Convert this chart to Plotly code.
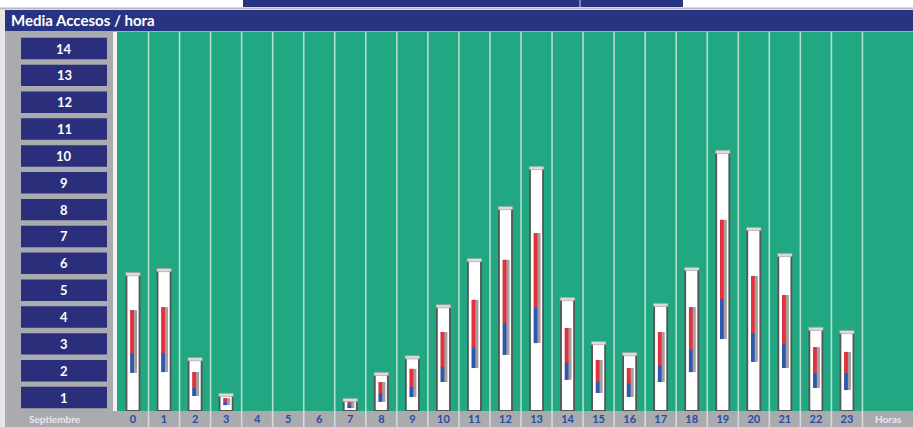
import plotly.graph_objects as go

# ---------------- data ----------------
hours = list(range(24))
hour_labels = [str(h) for h in hours]
y_labels = [str(k) for k in range(1, 15)]
N = None
max_val = [5.10, 5.25, 1.93, 0.60, N, N, N, 0.41, 1.38, 2.00, 3.90, 5.62,
           7.56, 9.05, 4.17, 2.53, 2.12, 3.95, 5.29, 9.65, 6.78, 5.81, 3.06, 2.94]
upper = [3.76, 3.87, 1.45, 0.48, N, N, N, 0.34, 1.08, 1.57, 2.94, 4.14,
         5.63, 6.63, 3.09, 1.90, 1.60, 2.94, 3.87, 7.12, 5.03, 4.32, 2.38, 2.20]
middle = [2.16, 2.16, 0.86, 0.33, N, N, N, 0.25, 0.67, 0.90, 1.64, 2.38,
          3.28, 3.87, 1.79, 1.08, 1.04, 1.71, 2.27, 4.17, 2.91, 2.53, 1.42, 1.42]
lower = [1.42, 1.45, 0.56, 0.22, N, N, N, 0.11, 0.34, 0.52, 1.08, 1.60,
         2.09, 2.53, 1.16, 0.67, 0.52, 1.08, 1.45, 2.68, 1.83, 1.60, 0.86, 0.78]
title_text = "Media Accesos / hora"
left_footer = "Septiembre"
right_footer = "Horas"

# ---------------- colours ----------------
GREEN = "#21A883"
NAVY = "#283481"
BOX_NAVY = "#2B2F7B"
GRAY = "#A9ABAE"
RED = "#E5303C"
BLUE = "#2B58B0"

W, H = 913, 427
L, R, T, B = 117, 0, 32, 16
plot_w = W - L - R
plot_h = H - T - B
unit_x = 31.04
unit_y = 26.85
x0 = -16 / unit_x
x_range = [x0, x0 + plot_w / unit_x]
y_range = [0, plot_h / unit_y]


def px_x(p):
    return (p - L) / plot_w


def px_y(p):
    return (H - B - p) / plot_h


def diff(a, b):
    return [None if (u is None or v is None) else u - v for u, v in zip(a, b)]


fig = go.Figure()

# outer white bars
fig.add_trace(go.Bar(x=hours, y=max_val, width=0.42,
                     marker=dict(color="white", line=dict(color="#555555", width=1.8)),
                     hoverinfo="skip"))
# caps
fig.add_trace(go.Bar(x=hours, y=[0.12 if v else None for v in max_val],
                     base=[v - 0.06 if v else None for v in max_val], width=0.47,
                     marker=dict(color="#dcdcdc", line=dict(color="#9a9a9a", width=0.6)),
                     hoverinfo="skip"))
# gray shade
fig.add_trace(go.Bar(x=hours, y=diff(upper, lower), base=lower, width=0.22, offset=-0.09,
                     marker=dict(color="rgba(105,95,95,0.6)", line=dict(width=0)),
                     hoverinfo="skip"))
# red
fig.add_trace(go.Bar(x=hours, y=diff(upper, middle), base=middle, width=0.12, offset=-0.09,
                     marker=dict(color=RED, line=dict(width=0)), hoverinfo="skip"))
# blue
fig.add_trace(go.Bar(x=hours, y=diff(middle, lower), base=lower, width=0.12, offset=-0.09,
                     marker=dict(color=BLUE, line=dict(width=0)), hoverinfo="skip"))

shapes = []
# top white strip and top navy block
shapes.append(dict(type="rect", xref="paper", yref="paper", x0=px_x(0), x1=px_x(W),
                   y0=px_y(10), y1=px_y(0), fillcolor="white", line=dict(width=0), layer="below"))
shapes.append(dict(type="rect", xref="paper", yref="paper", x0=px_x(243), x1=px_x(683),
                   y0=px_y(7), y1=px_y(0), fillcolor=NAVY, line=dict(width=0), layer="below"))
shapes.append(dict(type="line", xref="paper", yref="paper", x0=px_x(580), x1=px_x(580),
                   y0=px_y(7), y1=px_y(0), line=dict(color="#9aa0c0", width=1.5)))
shapes.append(dict(type="line", xref="paper", yref="paper", x0=px_x(0), x1=px_x(W),
                   y0=px_y(8.5), y1=px_y(8.5), line=dict(color="#b8b8c0", width=2)))
# title bar
shapes.append(dict(type="rect", xref="paper", yref="paper", x0=px_x(5), x1=px_x(W),
                   y0=px_y(31), y1=px_y(10), fillcolor=NAVY, line=dict(width=0), layer="below"))
# left white edge
shapes.append(dict(type="rect", xref="paper", yref="paper", x0=px_x(0), x1=px_x(5),
                   y0=px_y(H), y1=px_y(10), fillcolor="#e6e6e6", line=dict(width=0), layer="below"))
# white stripe between panel and plot
shapes.append(dict(type="rect", xref="paper", yref="paper", x0=px_x(113), x1=px_x(117),
                   y0=px_y(411), y1=px_y(32), fillcolor="#f2f2f2", line=dict(width=0), layer="below"))
# column separators
for h in hours:
    shapes.append(dict(type="line", xref="x", yref="paper", x0=h + 0.5, x1=h + 0.5,
                       y0=px_y(H), y1=1, line=dict(color="rgba(220,232,226,0.8)", width=1.6),
                       layer="below"))
# left label boxes
for k, lab in enumerate(y_labels, start=1):
    shapes.append(dict(type="rect", xref="paper", yref="y", x0=px_x(21), x1=px_x(107),
                       y0=k - 1 + 0.1, y1=k - 0.1, fillcolor=BOX_NAVY, line=dict(width=0)))

annotations = []
for k, lab in enumerate(y_labels, start=1):
    annotations.append(dict(xref="paper", yref="y", x=px_x(64), y=k - 0.5, text="<b>%s</b>" % lab,
                            showarrow=False, font=dict(color="white", size=13, family="Lato"),
                            xanchor="center", yanchor="middle"))
annotations.append(dict(xref="paper", yref="paper", x=px_x(9), y=px_y(20.5),
                        text="<b>%s</b>" % title_text, showarrow=False,
                        font=dict(color="white", size=15, family="Lato"),
                        xanchor="left", yanchor="middle"))
annotations.append(dict(xref="paper", yref="paper", x=px_x(55), y=px_y(419),
                        text="<b>%s</b>" % left_footer, showarrow=False,
                        font=dict(color="#e8e8ee", size=10, family="Lato"),
                        xanchor="center", yanchor="middle"))
annotations.append(dict(xref="paper", yref="paper", x=px_x(888), y=px_y(419),
                        text="<b>%s</b>" % right_footer, showarrow=False,
                        font=dict(color="#e8e8ee", size=10, family="Lato"),
                        xanchor="center", yanchor="middle"))

fig.update_layout(
    width=W, height=H,
    margin=dict(l=L, r=R, t=T, b=B, pad=0),
    paper_bgcolor=GRAY, plot_bgcolor=GREEN,
    barmode="overlay", showlegend=False,
    shapes=shapes, annotations=annotations,
    xaxis=dict(range=x_range, tickmode="array", tickvals=hours,
               ticktext=["<b>%s</b>" % t for t in hour_labels],
               tickfont=dict(color="#2A4C9E", size=11, family="Lato"),
               showgrid=False, zeroline=False, showline=False, ticks="", ticklabelstandoff=0,
               fixedrange=True),
    yaxis=dict(range=y_range, showticklabels=False, showgrid=False, zeroline=False,
               showline=False, ticks="", fixedrange=True),
)

fig.write_html("out.html", config={"displayModeBar": False},
               post_script="document.body.style.margin='0';document.body.style.overflow='hidden';")
